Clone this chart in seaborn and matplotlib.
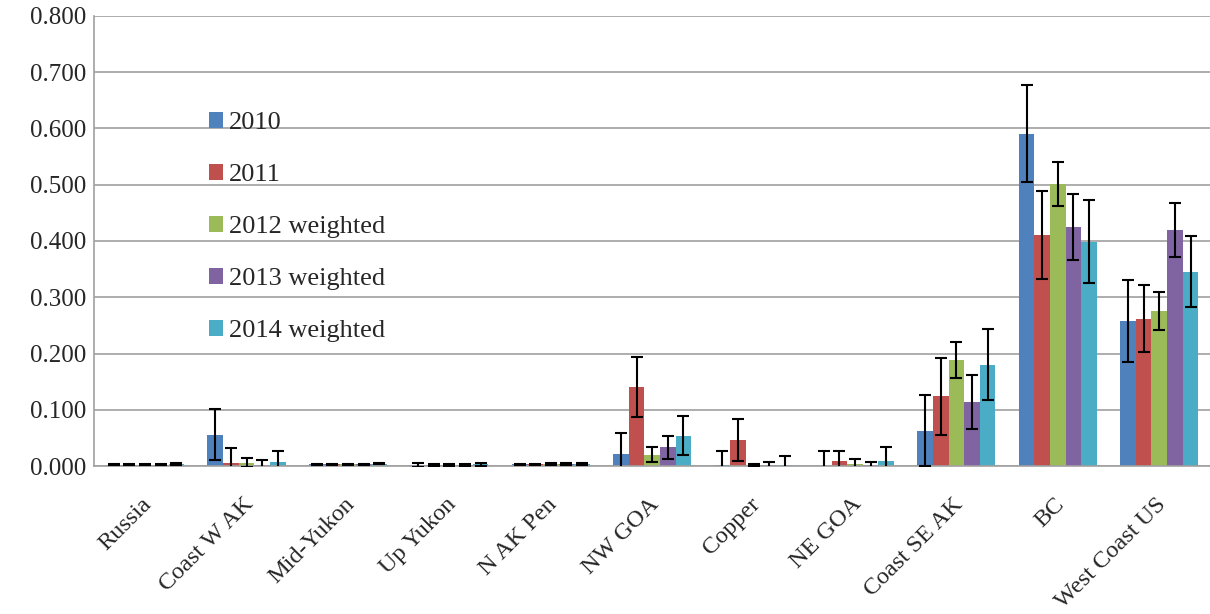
import numpy as np
import pandas as pd
import matplotlib
matplotlib.use('Agg')
import matplotlib.pyplot as plt
from matplotlib.ticker import FixedLocator
import matplotlib.transforms as mtransforms
import seaborn as sns

regions = ['Russia', 'Coast W AK', 'Mid-Yukon', 'Up Yukon', 'N AK Pen', 'NW GOA',
           'Copper', 'NE GOA', 'Coast SE AK', 'BC', 'West Coast US']
series = ['2010', '2011', '2012 weighted', '2013 weighted', '2014 weighted']

# mean stock proportions per year
v2010 = [0.002, 0.056, 0.003, 0.002, 0.003, 0.022, 0.002, 0.000, 0.063, 0.591, 0.258]
v2011 = [0.002, 0.006, 0.003, 0.002, 0.003, 0.140, 0.046, 0.009, 0.124, 0.410, 0.262]
v2012 = [0.002, 0.006, 0.003, 0.002, 0.003, 0.020, 0.002, 0.004, 0.188, 0.501, 0.276]
v2013 = [0.002, 0.002, 0.003, 0.002, 0.003, 0.033, 0.001, 0.001, 0.113, 0.425, 0.419]
v2014 = [0.003, 0.008, 0.004, 0.003, 0.004, 0.054, 0.002, 0.009, 0.180, 0.399, 0.345]

# error bar half-widths
e2010 = [0.001, 0.046, 0.001, 0.003, 0.001, 0.037, 0.025, 0.026, 0.063, 0.087, 0.073]
e2011 = [0.001, 0.026, 0.001, 0.002, 0.001, 0.053, 0.037, 0.018, 0.068, 0.078, 0.060]
e2012 = [0.001, 0.008, 0.001, 0.002, 0.002, 0.013, 0.002, 0.008, 0.032, 0.039, 0.034]
e2013 = [0.001, 0.008, 0.001, 0.002, 0.002, 0.021, 0.007, 0.006, 0.048, 0.059, 0.048]
e2014 = [0.002, 0.019, 0.001, 0.003, 0.002, 0.035, 0.016, 0.025, 0.063, 0.073, 0.063]

colors = ['#4F81BD', '#C0504D', '#9BBB59', '#8064A2', '#4BACC6']

vals = [v2010, v2011, v2012, v2013, v2014]
errs = [e2010, e2011, e2012, e2013, e2014]
df = pd.DataFrame({
    'region': regions * len(series),
    'year': np.repeat(series, len(regions)),
    'value': np.concatenate(vals),
})

sns.set_style('white')
plt.rcParams['font.family'] = ['Liberation Serif', 'DejaVu Serif']

fig = plt.figure(figsize=(12.1, 6.14), dpi=100)
ax = fig.add_axes([0.078, 0.241, 0.922, 0.733])

sns.barplot(data=df, x='region', y='value', hue='year', order=regions,
            hue_order=series, palette=colors, width=0.77, gap=0,
            errorbar=None, saturation=1, linewidth=0, ax=ax, zorder=2)

# error bars on each bar
bar_conts = list(ax.containers)
for i, cont in enumerate(bar_conts):
    xs = [p.get_x() + p.get_width() / 2 for p in cont.patches]
    hs = [p.get_height() for p in cont.patches]
    ax.errorbar(xs, hs, yerr=errs[i], fmt='none', ecolor='black',
                elinewidth=1.5, capsize=4, capthick=1.5, zorder=3)

ax.set_ylim(0, 0.8)
ax.set_xlim(-0.5, len(regions) - 0.5)
yt = np.arange(0, 0.81, 0.1)
ax.set_yticks(yt)
ax.set_yticklabels([f'{t:.3f}' for t in yt], fontsize=18)
ax.yaxis.grid(True, color='#A0A0A0', linewidth=1.2, zorder=0)
ax.set_axisbelow(True)

ax.set_xlabel('')
ax.set_ylabel('')
ax.set_xticks(range(len(regions)))
ax.set_xticklabels(regions, rotation=45, ha='right', va='top',
                   rotation_mode='anchor', fontsize=17.5)
ax.tick_params(axis='x', which='major', length=0, pad=20)
shift = mtransforms.ScaledTranslation(-4 / 100, 0, fig.dpi_scale_trans)
for lab in ax.get_xticklabels():
    lab.set_transform(lab.get_transform() + shift)
ax.xaxis.set_minor_locator(FixedLocator(np.arange(-0.5, len(regions), 1)))
ax.tick_params(axis='x', which='minor', length=7, color='#A0A0A0', width=1.2)
ax.tick_params(axis='y', length=0, pad=6)

for s in ['top', 'right']:
    ax.spines[s].set_visible(False)
for s in ['left', 'bottom']:
    ax.spines[s].set_color('#A0A0A0')
    ax.spines[s].set_linewidth(1.2)

handles, labels = ax.get_legend_handles_labels()
ax.legend(handles, labels, loc='upper left', bbox_to_anchor=(0.1725, 0.817),
          bbox_transform=fig.transFigure, frameon=False, fontsize=19,
          handlelength=0.53, handleheight=0.53, handletextpad=0.25,
          labelspacing=1.13, borderaxespad=0, borderpad=0)

fig.savefig('out.png', dpi=100)
